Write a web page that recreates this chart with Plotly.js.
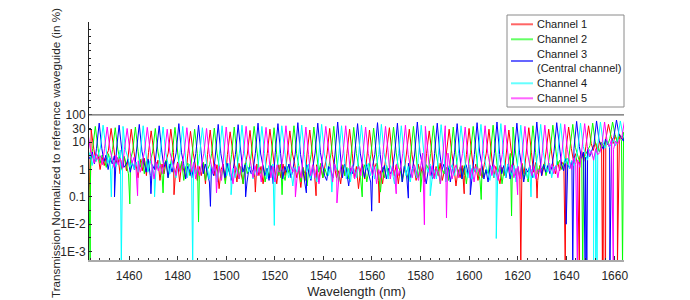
<!DOCTYPE html>
<html>
<head>
<meta charset="utf-8">
<script src="https://cdn.plot.ly/plotly-3.0.1.min.js"></script>
<style>
  html, body { margin: 0; padding: 0; background: #fff; }
  #chart { width: 690px; height: 300px; }
</style>
</head>
<body>
<div id="chart"></div>
<script>
// ---------- DATA ----------
const channelNames = ['Channel 1', 'Channel 2', 'Channel 3<br>(Central channel)', 'Channel 4', 'Channel 5'];
const channelColors = ['#ff0000', '#00ff00', '#0000ff', '#00ffff', '#ff00ff'];

const xTickVals = [1460, 1480, 1500, 1520, 1540, 1560, 1580, 1600, 1620, 1640, 1660];
const yTickVals = [0.001, 0.01, 0.1, 1, 10, 30, 100];
const yTickText = ['1E-3', '1E-2', '0.1', '1', '10', '30', '100'];

// resonance peak wavelengths (nm) and peak transmission (%)
const ch1_peak_nm = [1436.2, 1444.4, 1452.6, 1460.9, 1469.1, 1477.2, 1485.3, 1493.4, 1501.6, 1509.8, 1518.0, 1526.2, 1534.4, 1542.6, 1550.8, 1559.0, 1567.2, 1575.4, 1583.6, 1591.8, 1600.0, 1608.2, 1616.4, 1624.6, 1632.8, 1641.0, 1649.2, 1657.4, 1665.6];
const ch2_peak_nm = [1437.9, 1446.1, 1454.3, 1462.6, 1470.8, 1478.9, 1487.0, 1495.1, 1503.3, 1511.5, 1519.7, 1527.9, 1536.1, 1544.3, 1552.5, 1560.7, 1568.9, 1577.1, 1585.3, 1593.5, 1601.7, 1609.9, 1618.1, 1626.3, 1634.5, 1642.7, 1650.9, 1659.1, 1667.3];
const ch3_peak_nm = [1439.5, 1447.7, 1455.9, 1464.2, 1472.4, 1480.5, 1488.6, 1496.7, 1504.9, 1513.1, 1521.3, 1529.5, 1537.7, 1545.9, 1554.1, 1562.3, 1570.5, 1578.7, 1586.9, 1595.1, 1603.3, 1611.5, 1619.7, 1627.9, 1636.1, 1644.3, 1652.5, 1660.7, 1668.9];
const ch4_peak_nm = [1441.1, 1449.3, 1457.5, 1465.8, 1474.0, 1482.1, 1490.2, 1498.3, 1506.5, 1514.7, 1522.9, 1531.1, 1539.3, 1547.5, 1555.7, 1563.9, 1572.1, 1580.3, 1588.5, 1596.7, 1604.9, 1613.1, 1621.3, 1629.5, 1637.7, 1645.9, 1654.1, 1662.3, 1670.5];
const ch5_peak_nm = [1442.8, 1451.0, 1459.2, 1467.5, 1475.7, 1483.8, 1491.9, 1500.0, 1508.2, 1516.4, 1524.6, 1532.8, 1541.0, 1549.2, 1557.4, 1565.6, 1573.8, 1582.0, 1590.2, 1598.4, 1606.6, 1614.8, 1623.0, 1631.2, 1639.4, 1647.6, 1655.8, 1664.0, 1672.2];

const ch1_peak_val = [30, 28, 32, 30, 26, 30, 25, 28, 24, 27, 30, 26, 28, 32, 30, 28, 34, 30, 26, 30, 32, 30, 28, 34, 30, 36, 40, 45, 40];
const ch2_peak_val = [35, 38, 34, 36, 32, 35, 30, 33, 36, 38, 34, 40, 36, 38, 35, 33, 36, 38, 40, 36, 38, 42, 36, 40, 42, 45, 50, 55, 50];
const ch3_peak_val = [45, 50, 42, 45, 40, 48, 42, 45, 44, 50, 48, 52, 50, 55, 48, 52, 50, 55, 50, 48, 52, 55, 50, 55, 52, 58, 60, 65, 60];
const ch4_peak_val = [40, 42, 38, 40, 36, 38, 34, 40, 42, 38, 40, 42, 45, 40, 42, 45, 40, 42, 44, 40, 45, 48, 42, 45, 48, 50, 55, 60, 55];
const ch5_peak_val = [35, 36, 32, 35, 30, 34, 32, 36, 38, 35, 40, 36, 38, 40, 36, 38, 42, 38, 40, 36, 40, 42, 38, 42, 45, 48, 55, 60, 55];

// off-resonance transmission (%), 8 readings between consecutive peaks
const ch1_floor = [
  6.0,2.8,4.2,1.5,3.6,0.9,2.6,5.5, 5.5,2.0,3.5,1.0,2.8,1.4,3.2,5.0, 5.0,1.6,2.8,0.7,2.2,3.0,0.9,4.6,
  4.6,1.8,0.5,2.4,0.9,2.6,0.6,4.2, 4.4,1.0,2.2,0.4,1.6,0.7,2.0,4.0, 4.2,0.8,1.9,0.35,1.8,0.9,0.5,3.8,
  4.0,1.6,0.4,1.3,0.6,1.8,0.3,3.6, 3.8,0.6,1.5,0.2,1.0,1.6,0.4,3.5, 4.0,1.2,0.35,1.7,0.7,0.3,1.4,3.7,
  3.6,0.5,1.6,0.6,1.3,0.3,1.0,3.8, 3.9,1.1,0.3,1.5,0.5,1.6,0.6,3.5, 3.7,1.7,0.5,1.0,0.22,1.2,0.4,4.0,
  4.1,0.7,1.5,0.35,1.3,0.5,1.6,3.6, 3.6,1.3,0.5,0.9,0.3,1.5,0.6,3.9, 3.8,0.5,1.3,0.2,1.0,1.6,0.45,3.7,
  4.0,1.1,1.7,0.4,0.9,0.3,1.3,3.5, 3.7,0.6,1.5,0.3,1.2,0.5,1.0,4.1, 3.5,1.0,0.4,1.6,0.6,1.3,0.35,3.9,
  4.1,0.5,1.3,0.6,1.7,0.4,0.9,3.7, 3.9,1.3,0.25,1.0,0.5,1.4,0.6,3.5, 3.7,0.8,1.6,0.4,1.1,0.5,1.5,4.0,
  4.0,0.5,1.3,0.7,0.3,1.2,0.6,3.7, 3.8,1.4,0.6,1.1,0.45,1.7,0.7,4.1, 4.1,0.8,1.8,0.4,1.4,0.6,1.3,4.4,
  4.8,1.3,0.7,2.0,0.9,1.9,1.4,5.2, 6.0,2.2,3.8,1.5,2.8,4.5,2.0,7.0, 9.0,5.0,10,4.0,11,6.0,8.0,13,
  16,9.0,18,10,20,13,22,26];
const ch2_floor = [
  6.5,3.2,4.8,1.8,2.8,4.0,1.5,5.8, 6.0,1.7,3.4,2.4,1.2,3.8,1.9,5.4, 5.2,2.2,1.0,2.9,1.3,0.7,2.4,4.8,
  4.7,1.2,2.5,0.7,2.0,0.9,2.2,4.4, 4.4,1.8,0.6,1.6,2.2,0.5,1.3,4.1, 4.2,0.9,2.0,0.4,1.3,1.7,0.6,3.9,
  3.9,0.6,1.4,1.8,0.4,1.0,1.5,3.8, 4.0,1.5,0.5,1.2,0.3,1.3,0.8,3.6, 3.7,0.45,1.3,0.3,1.7,0.7,1.2,4.0,
  4.1,1.2,0.7,1.4,0.35,1.1,0.5,3.7, 3.6,0.6,1.6,0.8,0.4,1.3,0.7,3.9, 3.8,1.4,0.35,1.2,0.7,0.25,1.3,3.6,
  4.0,0.8,1.7,0.5,1.1,0.6,1.4,4.1, 3.7,0.35,1.0,1.4,0.6,1.2,0.45,3.8, 3.9,1.3,0.5,0.9,1.5,0.35,1.0,3.6,
  3.6,0.8,0.15,1.2,0.5,1.4,0.6,4.0, 4.1,1.2,0.9,0.35,1.4,0.7,0.4,3.7, 3.7,0.5,1.3,0.9,0.6,1.5,1.0,3.9,
  4.0,1.5,0.3,1.0,0.7,1.2,0.4,3.6, 3.6,0.6,1.2,0.45,1.4,0.3,1.3,4.1, 3.9,1.0,0.4,1.3,0.6,1.0,0.7,3.7,
  4.1,0.8,1.4,0.3,1.0,0.6,1.5,3.9, 3.7,1.2,0.6,1.5,0.45,0.9,0.35,4.0, 4.3,0.7,1.3,1.0,1.6,0.6,1.4,4.6,
  5.0,1.5,2.2,1.0,1.8,2.6,1.5,5.5, 6.5,3.2,1.9,4.5,2.6,3.8,5.0,7.5, 10,6.5,4.5,10,6.5,11,8.0,14,
  17,10,19,11,23,14,26,30];
const ch3_floor = [
  6.2,4.0,1.8,3.2,2.4,4.4,1.6,6.0, 5.8,2.0,3.4,1.0,2.6,1.6,3.2,5.2, 5.2,1.2,1.5,2.4,0.8,1.7,1.0,4.8,
  4.7,1.9,0.8,2.4,0.6,1.5,1.0,4.4, 4.4,1.2,2.0,0.5,1.6,0.8,1.9,4.1, 4.1,1.7,0.45,1.3,0.9,0.5,1.3,3.9,
  3.9,0.7,1.6,0.8,0.35,1.3,0.6,3.8, 3.8,1.4,0.5,1.7,0.9,0.4,1.1,3.6, 4.0,0.8,1.5,0.35,1.2,0.7,1.0,3.9,
  3.7,1.6,0.6,1.1,0.4,1.4,0.3,4.1, 3.9,0.45,1.3,0.8,1.6,0.5,1.1,3.6, 3.6,1.1,0.35,1.5,0.8,0.4,1.3,4.0,
  4.1,1.5,0.6,0.4,1.3,0.9,0.5,3.7, 3.7,0.5,1.6,0.9,0.25,1.1,0.7,3.9, 4.0,1.3,0.5,1.5,0.8,0.35,1.4,3.6,
  3.6,0.8,1.4,0.45,1.1,0.7,1.0,4.0, 3.9,0.35,1.3,0.8,1.7,0.5,1.1,3.7, 4.1,1.4,0.7,0.3,1.0,1.3,0.45,3.9,
  3.7,1.0,1.6,0.5,1.3,0.35,1.1,4.1, 3.9,0.45,1.1,1.5,0.7,1.0,0.5,3.6, 4.0,1.5,0.45,1.0,0.35,1.4,0.8,3.9,
  3.6,0.7,1.4,0.5,1.6,0.45,1.0,4.0, 4.1,1.3,0.35,1.1,0.8,1.4,0.5,3.7, 4.4,0.6,1.5,0.8,1.4,0.7,1.3,4.7,
  5.3,1.6,0.9,2.4,1.5,1.1,2.1,5.8, 7.0,2.6,4.4,2.8,5.5,3.0,4.8,8.0, 11,8.0,5.5,13,9.0,6.5,12,15,
  18,16,11,22,15,24,29,32];
const ch4_floor = [
  6.0,2.6,4.2,1.4,3.2,2.0,3.8,6.2, 5.6,1.7,3.0,1.0,2.2,1.3,2.8,5.2, 5.0,2.8,1.2,2.1,1.0,1.9,0.8,4.7,
  4.6,0.8,2.1,1.5,0.6,1.7,1.1,4.3, 4.3,1.7,0.7,2.1,1.1,0.5,1.4,4.1, 4.0,0.5,1.6,0.9,1.9,0.7,1.1,3.9,
  3.8,1.3,0.45,1.5,0.8,1.2,0.35,3.7, 4.0,0.6,1.7,0.35,1.1,0.5,1.4,3.8, 3.7,1.5,0.8,1.3,0.45,1.0,0.6,4.0,
  3.9,0.45,1.4,0.6,1.6,0.3,1.1,3.6, 4.1,1.3,0.5,1.0,0.25,1.2,0.8,3.7, 3.6,0.8,1.6,0.45,1.4,0.6,0.35,4.0,
  4.0,1.6,0.6,1.3,0.5,1.5,1.0,3.8, 3.7,0.45,1.1,0.35,1.5,0.8,0.5,4.1, 3.9,1.0,1.7,0.6,1.3,0.45,1.4,3.6,
  4.1,1.5,0.45,1.4,0.8,0.3,1.0,3.9, 3.6,0.6,1.3,0.35,1.0,1.4,0.5,4.0, 3.9,1.3,0.8,1.6,0.5,1.0,0.45,3.7,
  4.0,0.35,1.4,1.0,1.5,0.6,1.3,3.9, 3.7,1.1,0.5,1.5,0.45,1.1,0.8,4.1, 3.9,1.4,0.8,0.4,1.3,0.5,1.0,3.6,
  4.1,0.5,1.6,1.1,0.6,1.4,0.35,4.0, 3.7,1.0,0.45,1.4,1.0,0.5,1.3,3.9, 4.3,1.5,0.8,1.7,0.5,1.3,1.0,4.6,
  5.2,1.7,2.6,1.1,2.1,1.4,2.4,5.6, 7.0,3.8,2.2,5.4,4.0,2.6,5.0,8.0, 10,6.0,11,6.5,9.5,12,7.5,14,
  17,13,19,10,23,15,26,30];
const ch5_floor = [
  6.4,3.4,1.7,3.8,2.2,3.2,1.5,6.0, 5.8,2.8,1.2,3.4,1.5,2.6,1.1,5.4, 5.1,1.7,2.8,0.9,2.1,0.8,1.8,4.8,
  4.6,1.3,0.45,1.9,0.9,1.5,0.7,4.3, 4.3,2.1,1.0,0.6,1.7,0.8,1.4,4.1, 4.0,0.8,1.8,0.45,1.4,0.6,1.6,3.9,
  3.8,1.5,0.7,1.6,0.5,1.3,0.4,3.7, 4.0,0.8,0.3,1.3,1.0,0.45,1.4,3.8, 3.7,1.6,0.5,1.4,0.6,1.2,0.35,4.0,
  3.9,0.5,1.3,0.35,1.5,0.8,1.0,3.6, 4.1,1.4,0.8,1.1,0.45,1.3,0.5,3.7, 3.6,0.6,1.5,0.5,1.3,0.3,1.1,4.0,
  4.0,1.3,0.35,1.6,0.8,0.5,1.4,3.8, 3.7,0.8,1.4,0.45,1.0,1.3,0.6,4.1, 3.9,1.5,0.6,1.3,0.3,1.0,0.5,3.6,
  4.1,0.45,1.3,0.8,1.6,0.6,1.1,3.9, 3.6,1.1,0.5,1.5,0.7,0.4,1.3,4.0, 3.9,0.6,1.4,0.45,1.1,0.8,0.3,3.7,
  4.0,1.4,0.45,1.0,1.5,0.5,1.3,3.9, 3.7,0.5,1.1,0.35,1.3,1.0,0.6,4.1, 3.9,1.3,0.6,1.5,0.8,0.4,1.4,3.6,
  4.1,0.8,1.5,0.5,1.1,1.3,0.45,4.0, 3.7,1.5,0.6,1.3,0.45,1.0,0.8,3.9, 4.4,0.9,1.6,0.7,1.4,0.5,1.5,4.7,
  5.3,2.0,1.0,2.7,1.5,2.2,1.2,5.8, 6.8,3.2,4.8,2.2,5.8,3.5,4.2,8.0, 10,7.0,12,5.5,11,8.5,13,15,
  17,15,10,21,14,27,23,32];

// isolated dips (nm, %)
const ch1_dip_nm = [1444.0, 1478.5, 1512.0, 1537.0, 1563.0, 1598.0, 1621.3, 1628.0, 1639.6, 1645.4, 1654.9, 1655.5, 1656.2, 1661.1];
const ch1_dip_val = [0.075, 0.12, 0.15, 0.11, 0.06, 0.13, 0.0003, 0.09, 0.0003, 0.0003, 0.0003, 0.0003, 0.0003, 0.0003];
const ch2_dip_nm = [1444.0, 1460.3, 1474.0, 1488.6, 1523.0, 1556.0, 1580.0, 1605.0, 1617.5, 1646.8, 1663.2];
const ch2_dip_val = [0.0003, 0.055, 0.14, 0.012, 0.12, 0.1, 0.15, 0.08, 0.02, 0.0003, 0.0003];
const ch3_dip_nm = [1454.0, 1469.0, 1493.5, 1508.0, 1533.0, 1559.9, 1575.0, 1600.5, 1640.0, 1642.7, 1647.8, 1648.5, 1658.0];
const ch3_dip_val = [0.1, 0.13, 0.045, 0.1, 0.14, 0.03, 0.09, 0.12, 0.01, 0.0003, 0.0003, 0.0003, 0.0003];
const ch4_dip_nm = [1452.7, 1456.8, 1470.5, 1486.2, 1502.0, 1519.8, 1543.5, 1584.0, 1611.2, 1625.5, 1651.3, 1652.1, 1652.7];
const ch4_dip_val = [0.1, 0.0003, 0.1, 0.0003, 0.12, 0.009, 0.15, 0.11, 0.003, 0.1, 0.0003, 0.0003, 0.0003];
const ch5_dip_nm = [1463.5, 1496.0, 1528.5, 1545.6, 1570.0, 1581.6, 1590.7, 1620.0, 1644.6, 1659.4];
const ch5_dip_val = [0.11, 0.14, 0.1, 0.06, 0.13, 0.0095, 0.017, 0.12, 0.0003, 0.0003];

// ---------- BUILD ----------
const PER_GAP = 8, EDGE = 1.1;
function buildSeries(peakNm, peakVal, floor, dipNm, dipVal) {
  const pts = [];
  for (let k = 0; k < peakNm.length; k++) {
    pts.push([peakNm[k], peakVal[k]]);
    if (k < peakNm.length - 1) {
      const a = peakNm[k] + EDGE, b = peakNm[k + 1] - EDGE;
      for (let j = 0; j < PER_GAP; j++) pts.push([a + (b - a) * j / (PER_GAP - 1), floor[PER_GAP * k + j]]);
    }
  }
  for (let i = 0; i < dipNm.length; i++) pts.push([dipNm[i], dipVal[i]]);
  pts.sort((p, q) => p[0] - q[0]);
  return { x: pts.map(p => p[0]), y: pts.map(p => p[1]) };
}

const series = [
  buildSeries(ch1_peak_nm, ch1_peak_val, ch1_floor, ch1_dip_nm, ch1_dip_val),
  buildSeries(ch2_peak_nm, ch2_peak_val, ch2_floor, ch2_dip_nm, ch2_dip_val),
  buildSeries(ch3_peak_nm, ch3_peak_val, ch3_floor, ch3_dip_nm, ch3_dip_val),
  buildSeries(ch4_peak_nm, ch4_peak_val, ch4_floor, ch4_dip_nm, ch4_dip_val),
  buildSeries(ch5_peak_nm, ch5_peak_val, ch5_floor, ch5_dip_nm, ch5_dip_val)
];

const traces = series.map((s, i) => ({
  type: 'scatter', mode: 'lines', x: s.x, y: s.y, name: channelNames[i],
  line: { color: channelColors[i], width: 1 }, hoverinfo: 'skip', showlegend: false
}));

// ---------- LAYOUT ----------
const W = 690, H = 300, ML = 89, MR = 66, MT = 22, MB = 40;
const PW = W - ML - MR, PH = H - MT - MB;
const px = v => (v - ML) / PW;          // pixel x -> paper x
const py = v => (H - MB - v) / PH;      // pixel y -> paper y

// minor tick positions on the log axis
const yMinor = [];
for (let e = -3; e < 2; e++) yMinor.push(Math.pow(10, e + 0.5));
for (let k = 1; k <= 13; k++) yMinor.push(Math.pow(10, 2 + 0.26 * k));

const font = 'Liberation Sans, Arial, Helvetica, sans-serif';

// legend drawn as a framed box with sample lines and labels
const legRows = [24.3, 39.3, 61.5, 83.3, 98.3];
const shapes = [
  { type: 'line', xref: 'paper', x0: 0, x1: 1, yref: 'y', y0: 100, y1: 100,
    line: { color: '#666', width: 1.3 }, layer: 'above' },
  { type: 'rect', xref: 'paper', yref: 'paper', x0: px(507), x1: px(624), y0: py(15), y1: py(107),
    line: { color: '#8a8a8a', width: 1 }, fillcolor: '#fff', layer: 'above' }
];
const annotations = [{
  text: 'Transmission Normalized to reference waveguide (in %)', textangle: -90,
  xref: 'paper', yref: 'paper', x: px(55), y: py(153), xanchor: 'center', yanchor: 'middle',
  showarrow: false, font: { family: font, size: 11.7, color: '#262626' }
}];
channelNames.forEach((n, i) => {
  const ly = legRows[i] + (i === 2 ? -0.5 : 0);
  shapes.push({ type: 'line', xref: 'paper', yref: 'paper', x0: px(511), x1: px(533), y0: py(ly), y1: py(ly),
    line: { color: channelColors[i], width: 2 }, opacity: 0.6, layer: 'above' });
  annotations.push({ text: n, xref: 'paper', yref: 'paper', x: px(535), y: py(legRows[i]),
    xanchor: 'left', yanchor: 'middle', align: 'left', showarrow: false,
    font: { family: font, size: 11, color: '#1a1a1a' } });
});

const layout = {
  width: W, height: H,
  margin: { l: ML, r: MR, t: MT, b: MB, pad: 0 },
  paper_bgcolor: '#fff', plot_bgcolor: '#fff',
  font: { family: font, size: 12, color: '#262626' },
  showlegend: false,
  xaxis: {
    range: [1443.5, 1663.8], tickmode: 'array', tickvals: xTickVals,
    ticks: 'inside', ticklen: 4, tickcolor: '#333', tickwidth: 1,
    showline: true, linecolor: '#aaa', linewidth: 2, mirror: false,
    showgrid: false, zeroline: false, ticklabelstandoff: 4,
    tickfont: { size: 12, color: '#262626' },
    minor: { ticks: 'inside', ticklen: 2, dtick: 4, tick0: 1460, tickcolor: '#333', showgrid: false },
    title: { text: 'Wavelength (nm)', font: { size: 13, color: '#262626' }, standoff: 4 }
  },
  yaxis: {
    type: 'log', range: [-3.31, 5.40], tickmode: 'array', tickvals: yTickVals, ticktext: yTickText,
    ticks: 'inside', ticklen: 3, tickcolor: '#222', tickwidth: 1,
    showline: true, linecolor: '#222', linewidth: 1, mirror: false,
    showgrid: false, zeroline: false,
    tickfont: { size: 12, color: '#262626' },
    minor: { ticks: 'inside', ticklen: 2, tickmode: 'array', tickvals: yMinor, tickcolor: '#222', showgrid: false }
  },
  shapes: shapes,
  annotations: annotations
};

Plotly.newPlot('chart', traces, layout, { staticPlot: true, displayModeBar: false });
</script>
</body>
</html>
